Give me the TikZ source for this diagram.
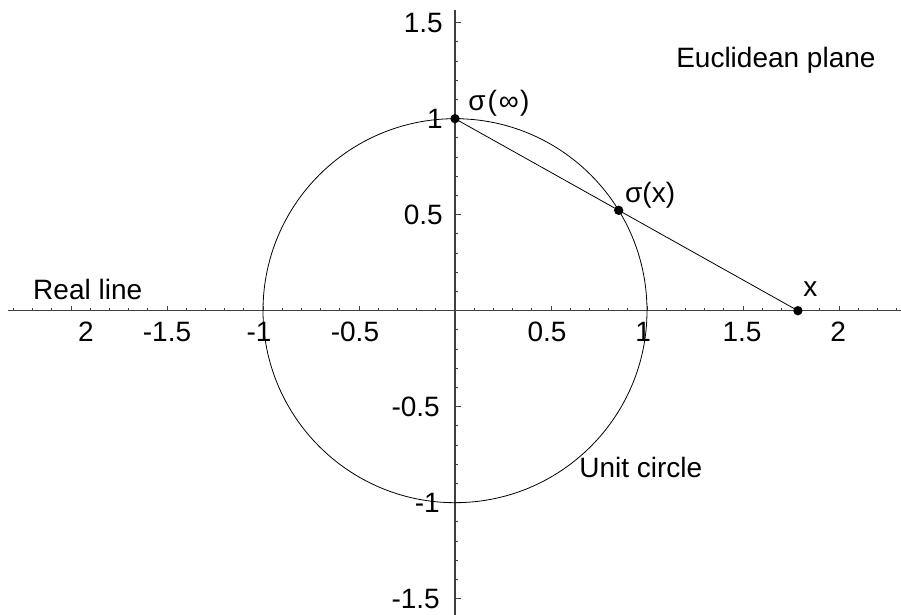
\documentclass[tikz,border=0pt]{standalone}
\usepackage{fontspec}
\setmainfont{Liberation Sans}
\begin{document}
\begin{tikzpicture}[x=144pt,y=144pt,
  lbl/.style={inner sep=0pt,font=\fontsize{21}{25}\selectfont},
  axisline/.style={line width=0.8pt,black!75},
  tickline/.style={line width=0.6pt,black!75},
  curve/.style={line width=0.6pt,black},
  dotpt/.style={circle,fill=black,inner sep=0pt,minimum size=7pt}]
\useasboundingbox (-2.3698,-1.5849) rectangle (2.3229,1.6182);
% axes
\coordinate (xl) at (-2.33,0);
\coordinate (xr) at (2.3229,0);
\coordinate (yb) at (0,-1.5849);
\coordinate (yt) at (0,1.566);
\draw[axisline] (xl) -- (xr);
\draw[axisline] (yb) -- (yt);
% x ticks
\foreach \i in {-23,...,23}{
  \ifnum\i=0\relax\else
  \pgfmathtruncatemacro{\m}{mod(abs(\i),5)}
  \ifnum\m=0
    \draw[tickline] (\i/10,0) -- (\i/10,0.027);
  \else
    \draw[tickline] (\i/10,0) -- (\i/10,0.016);
  \fi\fi}
% y ticks
\foreach \i in {-15,...,15}{
  \ifnum\i=0\relax\else
  \pgfmathtruncatemacro{\m}{mod(abs(\i),5)}
  \ifnum\m=0
    \draw[tickline] (0,\i/10) -- (0.029,\i/10);
  \else
    \draw[tickline] (0,\i/10) -- (0.018,\i/10);
  \fi\fi}
% x tick labels
\node[lbl,anchor=base] (xm2) at (-1.922,-0.163) {2};
\node[lbl,anchor=base] (xm15) at (-1.5,-0.163) {-1.5};
\node[lbl,anchor=base] (xm1) at (-1.021,-0.163) {-1};
\node[lbl,anchor=base] (xm05) at (-0.521,-0.163) {-0.5};
\node[lbl,anchor=base] (xp05) at (0.479,-0.163) {0.5};
\node[lbl,anchor=base] (xp1) at (0.98,-0.163) {1};
\node[lbl,anchor=base] (xp15) at (1.495,-0.163) {1.5};
\node[lbl,anchor=base] (xp2) at (1.995,-0.163) {2};
% y tick labels
\node[lbl,anchor=east] (yp15) at (-0.0625,1.5) {1.5};
\node[lbl,anchor=east] (yp1) at (-0.0625,1) {1};
\node[lbl,anchor=east] (yp05) at (-0.0625,0.5) {0.5};
\node[lbl,anchor=east] (ym05) at (-0.078,-0.5) {-0.5};
\node[lbl,anchor=east] (ym1) at (-0.078,-1) {-1};
\node[lbl,anchor=east] (ym15) at (-0.078,-1.5) {-1.5};
% circle and projection line
\draw[curve] (0,0) circle[radius=1];
\coordinate (inf) at (0,1);
\coordinate (sx) at (0.8525,0.5227);
\coordinate (xx) at (1.786,0);
\draw[curve] (inf) -- (xx);
\node[dotpt] (dinf) at (inf) {};
\node[dotpt] (dsx) at (sx) {};
\node[dotpt] (dxx) at (xx) {};
% labels
\node[lbl,anchor=base west] (rl) at (-2.198,0.0583) {Real line};
\node[lbl,anchor=base west] (ep) at (1.151,1.264) {Euclidean plane};
\node[lbl,anchor=base west] (uc) at (0.646,-0.871) {Unit circle};
\node[lbl,anchor=base west] (linf) at (0.0677,1.045) {σ\kern1.5pt(\kern1.5pt∞\kern1pt)};
\node[lbl,anchor=base west] (lsx) at (0.885,0.561) {σ(x)};
\node[lbl,anchor=base west] (lx) at (1.8125,0.0714) {x};
\end{tikzpicture}
\end{document}
